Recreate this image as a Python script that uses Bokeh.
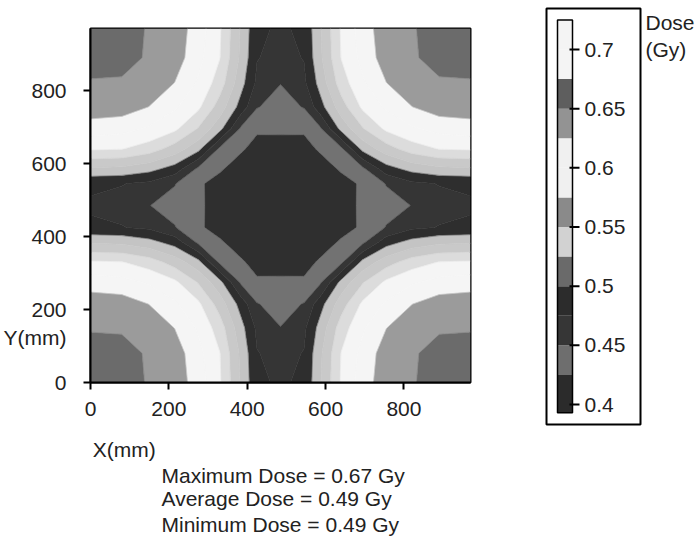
import numpy as np
from bokeh.plotting import figure
from bokeh.models import Range1d, FixedTicker, LinearAxis, Title
from bokeh.layouts import row
from bokeh.embed import file_html
from bokeh.resources import INLINE

# ---------------- data ----------------
# grid node positions (mm)
x_nodes = [0, 80, 150, 215, 275, 330, 385, 425, 485, 545, 585, 640, 695, 755, 820, 890, 970]
y_nodes = [0, 80, 150, 215, 275, 330, 385, 425, 485, 545, 585, 640, 695, 755, 820, 890, 970]

# dose (Gy) read for one quadrant (corner -> centre); the field is 4-fold symmetric
dose_quadrant = [
    [0.6700, 0.6587, 0.6482, 0.6400, 0.6125, 0.5781, 0.5213, 0.4790, 0.4720],
    [0.6587, 0.6572, 0.6475, 0.6378, 0.6081, 0.5759, 0.5187, 0.4760, 0.4680],
    [0.6482, 0.6475, 0.6396, 0.6245, 0.5965, 0.5625, 0.5080, 0.4700, 0.4506],
    [0.6400, 0.6378, 0.6245, 0.6036, 0.5801, 0.5386, 0.4890, 0.4515, 0.4395],
    [0.6125, 0.6081, 0.5965, 0.5801, 0.5480, 0.5078, 0.4446, 0.4262, 0.4267],
    [0.5781, 0.5759, 0.5625, 0.5386, 0.5078, 0.4446, 0.4260, 0.4221, 0.4211],
    [0.5213, 0.5187, 0.5080, 0.4890, 0.4446, 0.4260, 0.4209, 0.4177, 0.4154],
    [0.4790, 0.4760, 0.4700, 0.4515, 0.4262, 0.4221, 0.4177, 0.4145, 0.4112],
    [0.4720, 0.4680, 0.4506, 0.4395, 0.4267, 0.4211, 0.4154, 0.4112, 0.4050],
]

levels = [0.393, 0.425, 0.45, 0.475, 0.5, 0.525, 0.55, 0.575, 0.6, 0.625, 0.65, 0.675, 0.7, 0.725]
# grey shades as they appear in the printed map
map_colors = ["#2f2f2f", "#727272", "#353535", "#2e2e2e", "#c4c4c4", "#c9c9c9", "#dcdcdc",
              "#f5f5f5", "#f5f5f5", "#9b9b9b", "#6b6b6b", "#f7f7f7", "#f7f7f7"]
# grey shades as they appear in the printed colour bar
bar_colors = ["#2b2b2b", "#6e6e6e", "#363636", "#2c2c2c", "#6a6a6a", "#d2d2d2", "#8a8a8a",
              "#f0f0f0", "#f0f0f0", "#939393", "#5e5e5e", "#f4f4f4", "#f4f4f4"]

x_ticks = [0, 200, 400, 600, 800]
y_ticks = [0, 200, 400, 600, 800]
cb_ticks = [0.4, 0.45, 0.5, 0.55, 0.6, 0.65, 0.7]
cb_labels = ["0.4", "0.45", "0.5", "0.55", "0.6", "0.65", "0.7"]
stats_lines = ["Maximum Dose = 0.67 Gy", "Average Dose = 0.49 Gy", "Minimum Dose = 0.49 Gy"]
x_title, y_title = "X(mm)", "Y(mm)"
cb_title = ["Dose", "(Gy)"]

# --------------- build full grid ---------------
Q = np.array(dose_quadrant)
n = len(x_nodes)
idx = [min(k, n - 1 - k) for k in range(n)]
Z = Q[np.ix_(idx, idx)]


def _mix(c1, c2):
    a = int(c1[1:3], 16)
    b = int(c2[1:3], 16)
    m = (a + b) // 2
    return "#%02x%02x%02x" % (m, m, m)


# boundary lines in the blend of the two neighbouring shades (hides anti-alias seams)
edge_colors = [map_colors[0]] + [_mix(map_colors[i], map_colors[i + 1])
                                 for i in range(len(map_colors) - 1)] + [map_colors[-1]]

FONT = "Liberation Sans"
TXT = "#222222"
FS = "21px"

# --------------- map figure ---------------
p = figure(width=538, height=536, output_backend="svg", toolbar_location=None,
           x_range=Range1d(0, 970), y_range=Range1d(0, 970),
           min_border_left=87, min_border_right=68, min_border_top=28, min_border_bottom=148)
p.frame_align = False
p.contour(x=x_nodes, y=y_nodes, z=Z, levels=levels, fill_color=map_colors,
          line_color=edge_colors, line_width=0.8)

p.xgrid.visible = False
p.ygrid.visible = False
p.outline_line_color = "black"
p.outline_line_width = 2


def text_style(ax):
    ax.major_label_text_font = FONT
    ax.major_label_text_font_size = FS
    ax.major_label_text_color = TXT


# x axis: ticks + labels
xa = p.xaxis[0]
text_style(xa)
xa.ticker = FixedTicker(ticks=x_ticks)
xa.axis_line_color = "black"
xa.axis_line_width = 2
xa.major_tick_line_color = "black"
xa.major_tick_line_width = 2
xa.major_tick_out = 7
xa.major_tick_in = 0
xa.minor_tick_line_color = None
xa.major_label_standoff = 12

# y axis: tick marks drawn as minor ticks, labels (incl. the "Y(mm)" title) as major ticks
y_title_at = 124
ya = p.yaxis[0]
text_style(ya)
ya.ticker = FixedTicker(ticks=y_ticks + [y_title_at], minor_ticks=y_ticks)
ya.major_label_overrides = {y_title_at: y_title}
ya.axis_line_color = "black"
ya.axis_line_width = 2
ya.major_tick_line_color = None
ya.major_tick_out = 7
ya.major_tick_in = 0
ya.minor_tick_line_color = "black"
ya.minor_tick_line_width = 2
ya.minor_tick_out = 7
ya.minor_tick_in = 0
ya.major_label_standoff = 17

# "X(mm)" below the tick labels
x_title_at = 86
xa2 = LinearAxis(ticker=FixedTicker(ticks=[x_title_at]), major_label_overrides={x_title_at: x_title})
text_style(xa2)
xa2.axis_line_color = None
xa2.major_tick_line_color = None
xa2.minor_tick_line_color = None
xa2.major_tick_out = 0
xa2.major_tick_in = 0
xa2.major_label_standoff = 19
p.add_layout(xa2, "below")

for k, s in enumerate(stats_lines):
    p.add_layout(Title(text=s, align="left", offset=71, standoff=-4 if k == 0 else 1, text_font=FONT,
                       text_font_size=FS, text_font_style="normal", text_color=TXT), "below")

# --------------- colour bar figure ---------------
k_px = (404 - 49) / 0.3
box_top, box_bot = 8, 424
cb_top = 0.7 + (49 - box_top) / k_px
cb_bot = 0.4 - (box_bot - 404) / k_px
c = figure(width=160, height=536, output_backend="svg", toolbar_location=None,
           x_range=Range1d(0, 94), y_range=Range1d(cb_bot, cb_top),
           x_axis_location=None, y_axis_location=None,
           min_border_left=8, min_border_right=58, min_border_top=box_top,
           min_border_bottom=536 - box_bot)
c.frame_align = False
c.xgrid.visible = False
c.ygrid.visible = False
c.outline_line_color = "black"
c.outline_line_width = 2
c.quad(left=11, right=26, bottom=levels[:-1], top=levels[1:], fill_color=bar_colors, line_color=None)
c.quad(left=11, right=26, bottom=levels[0], top=levels[-1], fill_color=None, line_color="black", line_width=1.5)
c.segment(x0=23, x1=33, y0=cb_ticks, y1=cb_ticks, line_color="black", line_width=2)
c.text(x=38, y=cb_ticks, text=cb_labels, text_baseline="middle", text_align="left",
       text_font={"value": FONT}, text_font_size=FS, text_color=TXT)

cb_title_at = [0.723, 0.7]
ca = LinearAxis(ticker=FixedTicker(ticks=cb_title_at),
                major_label_overrides={cb_title_at[0]: cb_title[0], cb_title_at[1]: cb_title[1]})
text_style(ca)
ca.axis_line_color = None
ca.major_tick_line_color = None
ca.minor_tick_line_color = None
ca.major_tick_out = 0
ca.major_tick_in = 0
ca.major_label_standoff = 5
c.add_layout(ca, "right")

layout = row(p, c)
open("out.html", "w").write(file_html(layout, INLINE))
